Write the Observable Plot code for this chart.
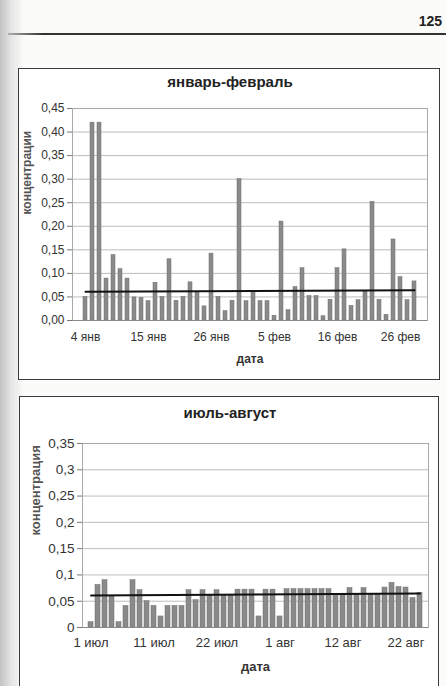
<!DOCTYPE html>
<html><head><meta charset="utf-8">
<script src="https://cdn.jsdelivr.net/npm/d3@7"></script>
<script src="https://cdn.jsdelivr.net/npm/@observablehq/plot@0.6"></script>
<style>
body{margin:0;width:446px;height:686px;background:#fbfbf9;position:relative;overflow:hidden;font-family:"Liberation Sans",Arial,sans-serif;color:#2a2a2a}
.edge{position:absolute;left:0;top:0;width:24px;height:686px;background:linear-gradient(to right,#c2c2c2,#e4e4e4 45%,rgba(251,251,249,0))}
.pnum{position:absolute;right:4px;top:13px;font-weight:bold;font-size:14px;color:#222}
.rule{position:absolute;left:8px;right:0;top:33px;height:2px;background:linear-gradient(to right,#b0b0b0,#333 8%)}
.box{position:absolute;border:1.3px solid #3a3a3a;background:#fff;box-sizing:border-box}
.title{position:absolute;left:0;width:460px;text-align:center;font-weight:bold;font-size:15px;color:#222}
.chart{position:absolute}
</style></head>
<body>
<div class="edge"></div>
<div class="pnum">125</div>
<div class="rule"></div>
<div class="box" style="left:18px;top:68px;width:422px;height:312px"></div>
<div class="title" style="top:73px">январь-февраль</div>
<div class="chart" id="c1" style="left:20px;top:95px"></div>
<div class="box" style="left:19px;top:396px;width:420px;height:292px"></div>
<div class="title" style="top:404px">июль-август</div>
<div class="chart" id="c2" style="left:21px;top:430px"></div>
<script>
// ---- январь-февраль ----
const janDates = ["4 янв","5 янв","6 янв","7 янв","8 янв","10 янв","11 янв","12 янв","13 янв",
  "15 янв","16 янв","17 янв","18 янв","19 янв","20 янв","22 янв","23 янв","24 янв",
  "26 янв","27 янв","28 янв","29 янв","30 янв","31 янв","1 фев","2 фев","3 фев",
  "5 фев","6 фев","7 фев","8 фев","9 фев","10 фев","12 фев","13 фев","14 фев",
  "16 фев","17 фев","18 фев","19 фев","20 фев","21 фев","23 фев","24 фев","25 фев",
  "26 фев","27 фев","28 фев"];
const janValues = [0.050,0.420,0.420,0.089,0.139,0.109,0.089,0.049,0.048,0.041,
  0.080,0.050,0.130,0.042,0.050,0.081,0.061,0.030,0.142,0.050,
  0.020,0.042,0.300,0.041,0.060,0.041,0.041,0.010,0.210,0.022,
  0.071,0.111,0.052,0.052,0.009,0.044,0.111,0.151,0.031,0.043,
  0.062,0.252,0.044,0.012,0.172,0.092,0.043,0.083];
const janTrend = [0.061, 0.064];
const janYTicks = [0,0.05,0.10,0.15,0.20,0.25,0.30,0.35,0.40,0.45];
const janXTicks = ["4 янв","15 янв","26 янв","5 фев","16 фев","26 фев"];

// ---- июль-август ----
const julDates = ["1 июл","2 июл","3 июл","4 июл","5 июл","7 июл","8 июл","9 июл","10 июл",
  "11 июл","12 июл","13 июл","14 июл","15 июл","17 июл","18 июл","19 июл","20 июл",
  "22 июл","23 июл","24 июл","25 июл","26 июл","28 июл","29 июл","30 июл","31 июл",
  "1 авг","2 авг","3 авг","4 авг","5 авг","7 авг","8 авг","9 авг","10 авг",
  "12 авг","13 авг","14 авг","15 авг","16 авг","18 авг","19 авг","20 авг","21 авг",
  "22 авг","23 авг","24 авг"];
const julValues = [0.010,0.081,0.090,0.059,0.010,0.041,0.090,0.071,0.050,0.041,
  0.021,0.041,0.041,0.041,0.071,0.052,0.071,0.062,0.071,0.062,
  0.062,0.072,0.072,0.072,0.021,0.072,0.072,0.021,0.073,0.073,
  0.073,0.073,0.073,0.073,0.073,0.063,0.064,0.075,0.064,0.075,
  0.064,0.064,0.076,0.085,0.077,0.076,0.056,0.066];
const julTrend = [0.061, 0.0645];
const julYTicks = [0,0.05,0.1,0.15,0.2,0.25,0.3,0.35];
const julXTicks = ["1 июл","11 июл","22 июл","1 авг","12 авг","22 авг"];

function makeChart(o) {
  const rows = o.dates.map((d, i) => ({date: d, v: o.values[i]}));
  const trendRows = [
    {date: o.dates[0], v: o.trend[0]},
    {date: o.dates[o.dates.length - 1], v: o.trend[1]}
  ];
  return Plot.plot({
    width: o.width, height: o.height,
    marginTop: o.mt, marginBottom: o.mb, marginLeft: o.ml, marginRight: o.mr,
    style: {background: "transparent", color: "#333", fontFamily: "'Liberation Sans', Arial, sans-serif"},
    x: {type: "band", domain: o.dates, paddingInner: o.pi, paddingOuter: 0.5},
    y: {domain: [0, o.yMax]},
    marks: [
      Plot.gridY(o.yTicks, {stroke: "#bdbdbd", strokeOpacity: 1, strokeWidth: 1}),
      Plot.frame({stroke: "#a8a8a8"}),
      Plot.barY(rows, {x: "date", y: "v", fill: "#8a8a8a", stroke: "#6e6e6e", strokeWidth: 0.5}),
      Plot.ruleY([0], {stroke: "#8a8a8a"}),
      Plot.line(trendRows, {x: "date", y: "v", stroke: "#111", strokeWidth: 2}),
      Plot.axisY(o.yTicks, {tickFormat: o.yFmt, tickSize: 5, tickPadding: 3, fontSize: o.fsY, label: null, stroke: "#777"}),
      Plot.axisX(o.xTicks, {tickSize: 0, tickPadding: o.tpX, fontSize: o.fsX, label: null}),
      Plot.text([o.yLabel], {frameAnchor: "left", dx: o.ylDx, rotate: -90, fontWeight: "bold", fontSize: o.fsL, fill: "#555"}),
      Plot.text([o.xLabel], {frameAnchor: "bottom", dy: o.xlDy, fontWeight: "bold", fontSize: o.fsL, fill: "#333"})
    ]
  });
}

document.getElementById("c1").appendChild(makeChart({
  dates: janDates, values: janValues, trend: janTrend, yTicks: janYTicks, xTicks: janXTicks,
  yMax: 0.45, width: 418, height: 280, mt: 13, mb: 55, ml: 52, mr: 11,
  yFmt: d => d.toFixed(2).replace(".", ","), yLabel: "концентрации", xLabel: "дата",
  fsY: 12, fsX: 12, fsL: 12, pi: 0.38, tpX: 12, ylDx: -45, xlDy: 42
}));
document.getElementById("c2").appendChild(makeChart({
  dates: julDates, values: julValues, trend: julTrend, yTicks: julYTicks, xTicks: julXTicks,
  yMax: 0.35, width: 416, height: 250, mt: 13, mb: 53, ml: 61, mr: 9,
  yFmt: d => String(+d.toFixed(2)).replace(".", ","), yLabel: "концентрация", xLabel: "дата",
  fsY: 13.5, fsX: 13, fsL: 13, pi: 0.3, tpX: 10, ylDx: -47, xlDy: 43
}));
</script>
</body></html>
